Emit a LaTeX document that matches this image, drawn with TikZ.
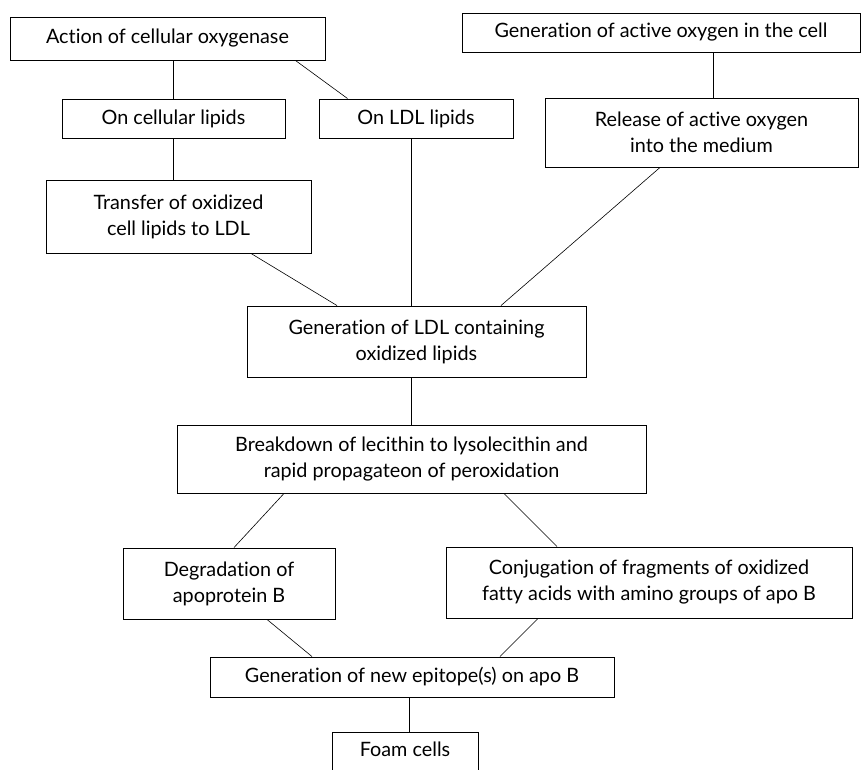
\documentclass[tikz,border=0pt]{standalone}
\usepackage{fontspec}
\setmainfont{Lato}[Ligatures=NoCommon]
\usepackage{tikz}
\usetikzlibrary{calc,positioning}

\begin{document}
\begin{tikzpicture}[
  x=1pt, y=-1pt,
  font=\fontsize{19.8}{26}\selectfont,
  stage/.style={
    rectangle, draw=black, line width=0.9pt,
    align=center, inner sep=2pt
  },
  link/.style={draw=black, line width=0.6pt}
]
\useasboundingbox (0,0) rectangle (862,769);

% upper part
\node[stage, minimum width=315pt, minimum height=43pt] (oxy) at (167.5,38.5)
  {Action of cellular oxygenase};
\node[stage, minimum width=398pt, minimum height=39pt] (actox) at (661,32.5)
  {Generation of active oxygen in the cell};
\node[stage, minimum width=223pt, minimum height=39pt] (celllip) at (173.5,118.5)
  {On cellular lipids};
\node[stage, minimum width=194pt, minimum height=39pt] (ldllip) at (416,118.5)
  {On LDL lipids};
\node[stage, minimum width=313pt, minimum height=69pt] (release) at (701.5,132.5)
  {Release of active oxygen\\into the medium};
\node[stage, minimum width=265pt, minimum height=73pt] (transfer) at (178.5,216.5)
  {Transfer of oxidized\\cell lipids to LDL};
\node[stage, minimum width=339pt, minimum height=71pt] (genldl) at (416.5,341.5)
  {Generation of LDL containing\\oxidized lipids};

% lower part
\node[stage, minimum width=469pt, minimum height=68pt] (breakdown) at (411.5,459)
  {Breakdown of lecithin to lysolecithin and\\rapid propagateon of peroxidation};
\node[stage, minimum width=212pt, minimum height=71pt] (degrad) at (229,583.5)
  {Degradation of\\apoprotein B};
\node[stage, minimum width=406pt, minimum height=71pt] (conj) at (649,582.5)
  {Conjugation of fragments of oxidized\\fatty acids with amino groups of apo B};
\node[stage, minimum width=404pt, minimum height=40pt] (epitope) at (412,677)
  {Generation of new epitope(s) on apo B};
\node[stage, minimum width=146pt, text height=22pt, text depth=40pt, anchor=north] (foam) at (405,732)
  {Foam cells};

\draw[link] (celllip.north |- oxy.south) -- (celllip.north);
\draw[link] ([xshift=-30pt]oxy.south east) -- ([xshift=29pt]ldllip.north west);
\draw[link] ([xshift=52pt]actox.south) -- ([xshift=52pt]actox.south |- release.north);
\draw[link] (celllip.south) -- (celllip.south |- transfer.north);
\draw[link] ([xshift=72.5pt]transfer.south) -- ([xshift=-79.5pt]genldl.north);
\draw[link] ([xshift=-5pt]ldllip.south) -- ([xshift=-5pt]ldllip.south |- genldl.north);
\draw[link] ([xshift=-41.5pt]release.south) -- ([xshift=84.5pt]genldl.north);
\draw[link] ([xshift=-5pt]genldl.south) -- ([xshift=-5pt]genldl.south |- breakdown.north);
\draw[link] ([xshift=-127.5pt]breakdown.south) -- ([xshift=5pt]degrad.north);
\draw[link] ([xshift=92.5pt]breakdown.south) -- ([xshift=-92pt]conj.north);
\draw[link] ([xshift=38pt]degrad.south) -- ([xshift=-100pt]epitope.north);
\draw[link] ([xshift=-111pt]conj.south) -- ([xshift=88pt]epitope.north);
\draw[link] ([xshift=-3pt]epitope.south) -- ([xshift=-3pt]epitope.south |- foam.north);
\end{tikzpicture}
\end{document}
